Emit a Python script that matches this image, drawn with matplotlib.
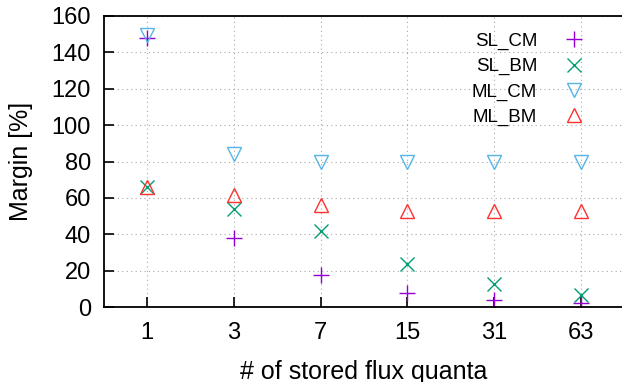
import matplotlib.pyplot as plt

plt.rcParams['font.family'] = ['Liberation Sans', 'DejaVu Sans']

flux = ['1', '3', '7', '15', '31', '63']
sl_cm = [148, 38, 17.5, 7.5, 4, 2]
sl_bm = [66, 54, 42, 23.5, 12.5, 6.5]
ml_cm = [149.5, 84, 79.5, 79.5, 79.5, 79.5]
ml_bm = [66, 61.5, 56, 53, 53, 53]

fig = plt.figure(figsize=(6.22, 3.82), dpi=100)
ax = fig.add_axes([103.5 / 622, 75 / 382, 521 / 622, 291 / 382])

x = range(len(flux))
ax.plot(x, sl_cm, ls='none', marker='+', ms=12, mew=1.0, color='#9400d3', label='SL_CM')
ax.plot(x, sl_bm, ls='none', marker='x', ms=10, mew=1.0, color='#009e73', label='SL_BM')
ax.plot(x, ml_cm, ls='none', marker='v', ms=10, mew=1.0, mfc='none', color='#56b4e9', label='ML_CM')
ax.plot(x, ml_bm, ls='none', marker='^', ms=10, mew=1.0, mfc='none', color='#ff3030', label='ML_BM')

ax.set_xlim(-0.5, 5.5)
ax.set_ylim(0, 160)
ax.set_xticks(list(x))
ax.set_xticklabels(flux)
ax.set_yticks(range(0, 161, 20))

ax.grid(True, color='#a8a8a8', linestyle=(0, (1, 3)), linewidth=0.8)
ax.tick_params(direction='in', length=7, width=1.2, labelsize=17, pad=9)
ax.tick_params(axis='x', pad=11)
ax.tick_params(top=False, right=False)
for s in ax.spines.values():
    s.set_linewidth(1.3)

ax.set_xlabel('# of stored flux quanta', fontsize=18, labelpad=11)
ax.set_ylabel('Margin [%]', fontsize=18, labelpad=13)

ax.legend(loc='upper right', bbox_to_anchor=(0.962, 1.0), frameon=False, markerfirst=False,
          fontsize=13.5, handletextpad=1.2, labelspacing=0.42, handlelength=1.5)

fig.savefig('out.png', dpi=100)
